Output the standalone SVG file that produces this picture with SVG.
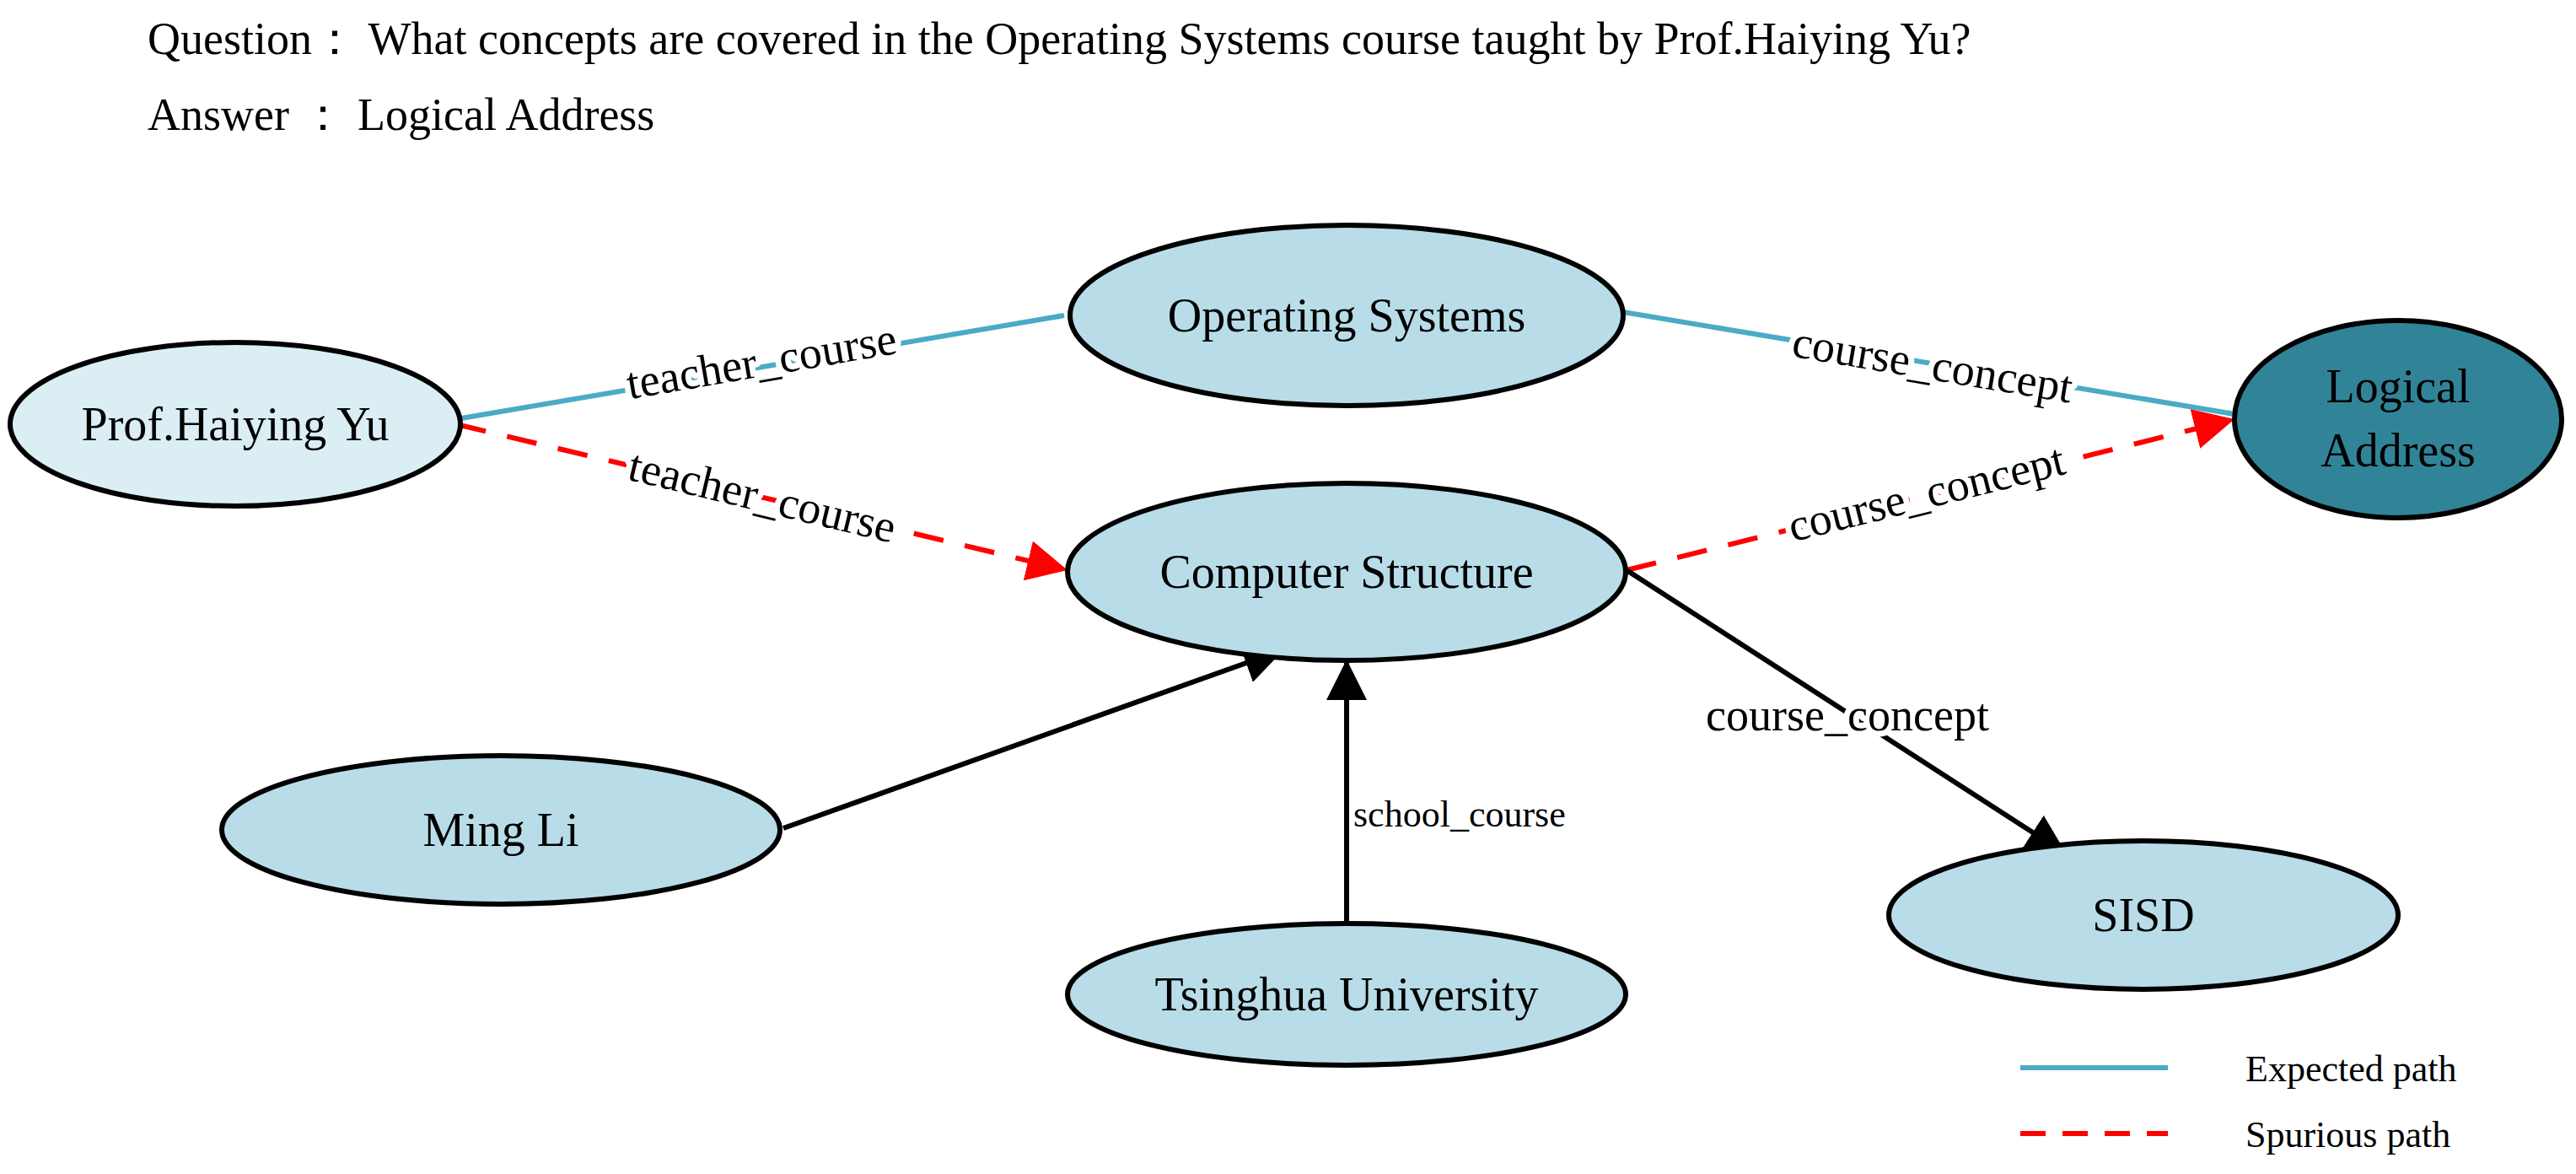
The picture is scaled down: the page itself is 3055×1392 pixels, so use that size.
<svg xmlns="http://www.w3.org/2000/svg" width="3055" height="1392" viewBox="0 0 3055 1392">
<defs>
<style>
text{font-family:"Liberation Serif","Times New Roman",serif;fill:#000}
.n ellipse{stroke:#000;stroke-width:6;fill:#b8dde8}
.n text{font-size:56px;text-anchor:middle}
.lbl{font-size:54px;text-anchor:middle;stroke:#fff;stroke-width:14;paint-order:stroke;stroke-linejoin:round}
.blue{stroke:#4aabc6;stroke-width:6;fill:none}
.red{stroke:#ff0000;stroke-width:6;fill:none;stroke-dasharray:36 26}
.blk{stroke:#000;stroke-width:6;fill:none}
</style>
<marker id="ab" viewBox="0 0 10 10" refX="10" refY="5" markerWidth="8" markerHeight="8" markerUnits="userSpaceOnUse" orient="auto"><path d="M0,0L10,5L0,10z" fill="#4aabc6"/></marker>
<marker id="ar" viewBox="0 0 10 10" refX="10" refY="5" markerWidth="8" markerHeight="8" orient="auto"><path d="M0,0L10,5L0,10z" fill="#ff0000"/></marker>
<marker id="ak" viewBox="0 0 10 10" refX="10" refY="5" markerWidth="8" markerHeight="8" orient="auto"><path d="M0,0L10,5L0,10z" fill="#000"/></marker>
</defs>
<rect width="3055" height="1392" fill="#fff"/>
<text x="175" y="64" font-size="54">Question：  What concepts are covered in the Operating Systems course taught by Prof.Haiying Yu?</text>
<text x="175" y="154" font-size="54">Answer ：  Logical Address</text>

<g id="edges">
<line class="blue" x1="541" y1="497" x2="1262" y2="374" marker-end="url(#ab)" style="--m:0"/>
<line class="red" x1="541" y1="503" x2="1266" y2="676" marker-end="url(#ar)"/>
<line class="blue" x1="1925" y1="370" x2="2650" y2="491" marker-end="url(#ab)"/>
<line class="red" x1="1929" y1="676" x2="2650" y2="497" marker-end="url(#ar)"/>
<line class="blk" x1="1929" y1="676" x2="2451" y2="1013" marker-end="url(#ak)"/>
<line class="blk" x1="929" y1="982" x2="1523" y2="770" marker-end="url(#ak)"/>
<line class="blk" x1="1597" y1="1095" x2="1597" y2="782" stroke-width="5" marker-end="url(#ak)"/>
<text class="lbl" transform="translate(906,446) rotate(-9.7)">teacher_course</text>
<text class="lbl" transform="translate(900,606) rotate(13.5)">teacher_course</text>
<text class="lbl" transform="translate(2289,450) rotate(9.5)">course_concept</text>
<text class="lbl" transform="translate(2289,602) rotate(-14)">course_concept</text>
<text class="lbl" x="2191" y="866">course_concept</text>
<text x="1605" y="980" font-size="44">school_course</text>
</g>

<g id="n-prof" class="n"><ellipse cx="279" cy="503" rx="267" ry="97" fill="#daeef4" style="fill:#daeef4"/><text x="279" y="522">Prof.Haiying Yu</text></g>
<g id="n-os" class="n"><ellipse cx="1597" cy="374" rx="328" ry="107"/><text x="1597" y="393">Operating Systems</text></g>
<g id="n-cs" class="n"><ellipse cx="1597" cy="678" rx="331" ry="105"/><text x="1597" y="697">Computer Structure</text></g>
<g id="n-la" class="n"><ellipse cx="2844" cy="497" rx="194" ry="117" style="fill:#318498"/><text x="2844" y="477">Logical</text><text x="2844" y="553">Address</text></g>
<g id="n-ming" class="n"><ellipse cx="594" cy="984" rx="331" ry="88"/><text x="594" y="1003">Ming Li</text></g>
<g id="n-tsu" class="n"><ellipse cx="1597" cy="1179" rx="331" ry="84"/><text x="1597" y="1198">Tsinghua University</text></g>
<g id="n-sisd" class="n"><ellipse cx="2542" cy="1085" rx="302" ry="88"/><text x="2542" y="1104">SISD</text></g>

<g id="legend">
<line x1="2396" y1="1266" x2="2571" y2="1266" stroke="#4aabc6" stroke-width="6"/>
<line x1="2396" y1="1344" x2="2571" y2="1344" stroke="#ff0000" stroke-width="6" stroke-dasharray="30 20"/>
<text x="2663" y="1282" font-size="44">Expected path</text>
<text x="2663" y="1360" font-size="44">Spurious path</text>
</g>
</svg>
